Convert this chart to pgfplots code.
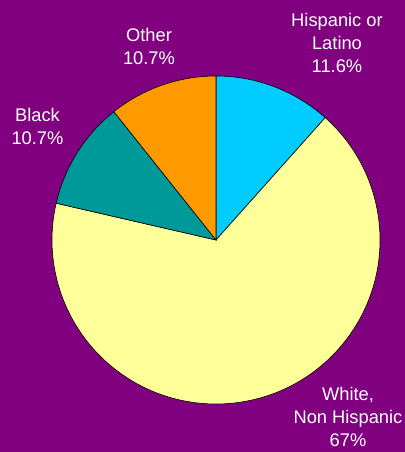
\documentclass[border=0pt]{standalone}
\usepackage{pgfplots}
\pgfplotsset{compat=1.18}
\usepackage{pgfplotstable}
\usepackage{fontspec}
\setmainfont{Liberation Sans}
\definecolor{bg}{HTML}{800080}
\definecolor{cHisp}{HTML}{00CCFF}
\definecolor{cWhite}{HTML}{FFFF99}
\definecolor{cBlack}{HTML}{009999}
\definecolor{cOther}{HTML}{FF9900}
\pgfplotstableread{
name value
Hispanic 11.6
White 67
Black 10.7
Other 10.7
}\piedata
\begin{document}
\begin{tikzpicture}
\pgfplotstablegetelem{0}{value}\of\piedata \let\vA\pgfplotsretval
\pgfplotstablegetelem{1}{value}\of\piedata \let\vB\pgfplotsretval
\pgfplotstablegetelem{2}{value}\of\piedata \let\vC\pgfplotsretval
\pgfplotstablegetelem{3}{value}\of\piedata \let\vD\pgfplotsretval
\pgfmathsetmacro\aA{90-3.6*\vA}
\pgfmathsetmacro\aB{\aA-3.6*\vB}
\pgfmathsetmacro\aC{\aB-3.6*\vC}
\pgfmathsetmacro\aD{\aC-3.6*\vD}
\begin{axis}[hide axis, scale only axis, width=405bp, height=452bp,
  xmin=0, xmax=405, ymin=0, ymax=452, clip=false]
\fill[bg] (axis cs:0,0) rectangle (axis cs:405,452);
\filldraw[fill=cHisp, draw=black, line width=0.6pt] (axis cs:216,212) -- ++(90:164bp) arc[start angle=90, end angle=\aA, radius=164bp] -- cycle;
\filldraw[fill=cWhite, draw=black, line width=0.6pt] (axis cs:216,212) -- ++(\aA:164bp) arc[start angle=\aA, end angle=\aB, radius=164bp] -- cycle;
\filldraw[fill=cBlack, draw=black, line width=0.6pt] (axis cs:216,212) -- ++(\aB:164bp) arc[start angle=\aB, end angle=\aC, radius=164bp] -- cycle;
\filldraw[fill=cOther, draw=black, line width=0.6pt] (axis cs:216,212) -- ++(\aC:164bp) arc[start angle=\aC, end angle=\aD, radius=164bp] -- cycle;
\tikzset{lbl/.style={text=white, align=center, font=\fontsize{18.3bp}{23bp}\selectfont, inner sep=0pt}}
\node[lbl] at (axis cs:149,405.5) {Other\\10.7\%};
\node[lbl] at (axis cs:337,409.5) {Hispanic or\\Latino\\11.6\%};
\node[lbl] at (axis cs:37.5,326) {Black\\10.7\%};
\node[lbl] at (axis cs:348,35) {White,\\Non Hispanic\\67\%};
\end{axis}
\end{tikzpicture}
\end{document}
